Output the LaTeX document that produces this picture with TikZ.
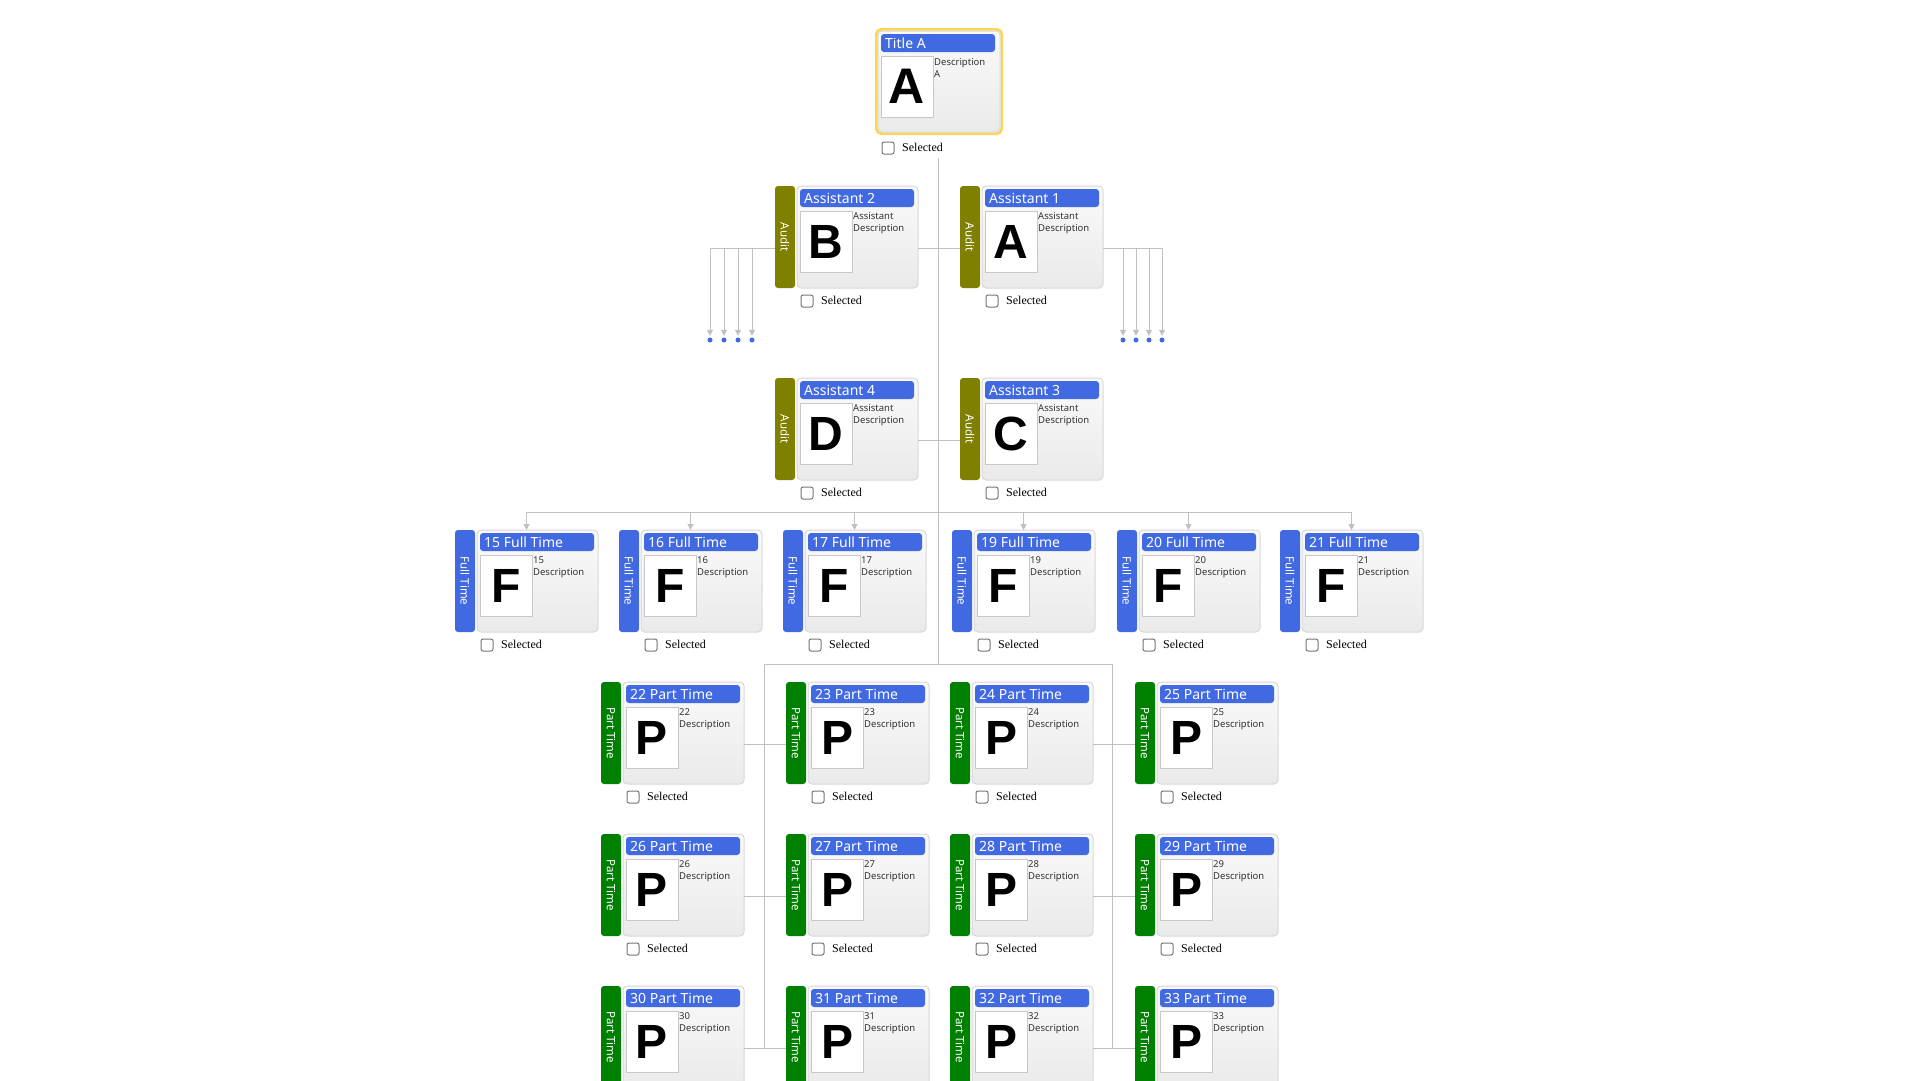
\documentclass[tikz,border=0pt]{standalone}
\usepackage{fontspec}
\setmainfont{Noto Sans}
\newfontfamily\selfont{Liberation Serif}
\newfontfamily\letterfont{Liberation Sans}
\usetikzlibrary{arrows.meta,calc}

\definecolor{royal}{RGB}{65,105,225}
\definecolor{auditolive}{RGB}{128,128,0}
\definecolor{ptgreen}{RGB}{0,128,0}
\definecolor{linegray}{RGB}{192,192,192}
\definecolor{cardborder}{RGB}{216,216,216}
\definecolor{cardtop}{RGB}{250,250,250}
\definecolor{cardbottom}{RGB}{234,234,234}
\definecolor{photoborder}{RGB}{200,200,200}
\definecolor{selgold}{RGB}{252,212,80}
\definecolor{chkgray}{RGB}{118,118,118}
\definecolor{desccol}{RGB}{51,51,51}

\tikzset{
  basebox/.style={inner sep=0pt, outer sep=0pt, anchor=north west},
  barbox/.style={basebox, minimum width=20pt, minimum height=102pt, rounded corners=3pt},
  bartext/.style={inner sep=0pt, rotate=-90, text=white, font=\fontsize{11.5}{13}\selectfont},
  cardbox/.style={basebox, draw=cardborder, line width=1pt, rounded corners=4pt, top color=cardtop, bottom color=cardbottom, minimum width=121pt, minimum height=102pt},
  titlebox/.style={basebox, fill=royal, rounded corners=3pt, minimum width=114pt, minimum height=18pt},
  titletext/.style={inner sep=0pt, anchor=base west, text=white, font=\fontsize{14}{16}\selectfont},
  photobox/.style={basebox, draw=photoborder, line width=1pt, fill=white, minimum width=52pt, minimum height=61pt},
  lettertext/.style={inner sep=0pt, font=\letterfont\bfseries\fontsize{48}{50}\selectfont},
  desctext/.style={inner sep=0pt, anchor=base west, text=desccol, font=\fontsize{9.5}{11}\selectfont},
  chkbox/.style={basebox, draw=chkgray, line width=1pt, fill=white, rounded corners=2pt, minimum width=12pt, minimum height=12pt},
  seltext/.style={inner sep=0pt, anchor=base west, text=black, font=\selfont\fontsize{12}{14}\selectfont},
  conn/.style={draw=linegray, line width=1pt},
  tipconn/.style={conn, -{Triangle[width=6pt,length=6pt]}},
  dotnode/.style={circle, fill=royal, inner sep=0pt, minimum size=5pt},
  selframe/.style={draw=selgold, line width=2.5pt, rounded corners=5pt}
}

% name, left, top, bar colour, bar text, title, letter, desc1, desc2
\newcommand\empnode[9]{%
\begin{scope}[shift={(#2,#3)}]
  \node[barbox, fill=#4] (#1bar) at (0,0) {};
  \node[bartext] (#1bartxt) at (10,51) {#5};
  \node[cardbox] (#1card) at (22,0) {};
  \node[titlebox] (#1title) at (25,3) {};
  \node[titletext] (#1titletxt) at (29,17.5) {#6};
  \node[photobox] (#1photo) at (25,25) {};
  \node[lettertext] (#1letter) at (#1photo.center) {#7};
  \node[desctext] (#1descA) at (78,33) {#8};
  \node[desctext] (#1descB) at (78,45) {#9};
  \ifdim #3pt<950pt
    \node[chkbox] (#1chk) at (26,109) {};
    \node[seltext] (#1sel) at (46,118) {Selected};
  \fi
  \coordinate (#1L) at (0,62);
  \coordinate (#1R) at (143,62);
  \coordinate (#1T) at (71.5,0);
\end{scope}}

\begin{document}
\begin{tikzpicture}[x=1pt, y=-1pt]
\path[use as bounding box] (0,0) rectangle (1920,1080);
\clip (0,0) rectangle (1920,1080);
\fill[white] (0,0) rectangle (1920,1080);

% ---------- connectors ----------
\coordinate (trunktop) at (938,158);
\coordinate (ftbus) at (938,512);
\coordinate (ptbus) at (938,664);
\coordinate (ptleft) at (764,664);
\coordinate (ptright) at (1112,664);
\coordinate (ptleftend) at (764,1048);
\coordinate (ptrightend) at (1112,1048);

\draw[conn] (trunktop) -- (ptbus);
\draw[conn] (ptleft) -- (ptright);
\draw[conn] (ptleft) -- (ptleftend);
\draw[conn] (ptright) -- (ptrightend);

% ---------- top node ----------
\draw[selframe] (876.25,29.25) rectangle (1001.75,133.75);
\begin{scope}[shift={(856,31)}]
  \node[cardbox, minimum width=122pt, minimum height=101pt] (topcard) at (22,0) {};
  \node[titlebox] (toptitle) at (25,3) {};
  \node[titletext] (toptitletxt) at (29,17.5) {Title A};
  \node[photobox] (topphoto) at (25,25) {};
  \node[lettertext, font=\letterfont\bfseries\fontsize{50}{52}\selectfont] (topletter) at (topphoto.center) {A};
  \node[desctext] (topdescA) at (78,34) {Description};
  \node[desctext] (topdescB) at (78,46) {A};
  \node[chkbox] (topchk) at (26,111) {};
  \node[seltext] (topsel) at (46,120) {Selected};
\end{scope}

% ---------- assistants ----------
\empnode{atwo}{775}{186}{auditolive}{Audit}{Assistant 2}{B}{Assistant}{Description}
\empnode{aone}{960}{186}{auditolive}{Audit}{Assistant 1}{A}{Assistant}{Description}
\empnode{afour}{775}{378}{auditolive}{Audit}{Assistant 4}{D}{Assistant}{Description}
\empnode{athree}{960}{378}{auditolive}{Audit}{Assistant 3}{C}{Assistant}{Description}

\draw[conn] (atwoR) -- (aoneL);
\draw[conn] (afourR) -- (athreeL);

% dangling arrows left
\node[dotnode] (ldA) at (710,340) {};
\node[dotnode] (ldB) at (724,340) {};
\node[dotnode] (ldC) at (738,340) {};
\node[dotnode] (ldD) at (752,340) {};
\draw[conn] (atwoL) -- (ldA |- atwoL);
\foreach \d in {ldA,ldB,ldC,ldD}{
  \draw[tipconn, shorten >=1.5pt] (\d |- atwoL) -- (\d.north);
}
% dangling arrows right
\node[dotnode] (rdA) at (1123,340) {};
\node[dotnode] (rdB) at (1136,340) {};
\node[dotnode] (rdC) at (1149,340) {};
\node[dotnode] (rdD) at (1162,340) {};
\draw[conn] (aoneR) -- (rdD |- aoneR);
\foreach \d in {rdA,rdB,rdC,rdD}{
  \draw[tipconn, shorten >=1.5pt] (\d |- aoneR) -- (\d.north);
}

% ---------- full time ----------
\empnode{fA}{455}{530}{royal}{Full Time}{15 Full Time}{F}{15}{Description}
\empnode{fB}{619}{530}{royal}{Full Time}{16 Full Time}{F}{16}{Description}
\empnode{fC}{783}{530}{royal}{Full Time}{17 Full Time}{F}{17}{Description}
\empnode{fD}{952}{530}{royal}{Full Time}{19 Full Time}{F}{19}{Description}
\empnode{fE}{1117}{530}{royal}{Full Time}{20 Full Time}{F}{20}{Description}
\empnode{fF}{1280}{530}{royal}{Full Time}{21 Full Time}{F}{21}{Description}

\draw[conn] (fAT |- ftbus) -- (fFT |- ftbus);
\foreach \n in {fA,fB,fC,fD,fE,fF}{
  \draw[tipconn] (\n T |- ftbus) -- (\n T);
}

% ---------- part time ----------
\empnode{pA}{601}{682}{ptgreen}{Part Time}{22 Part Time}{P}{22}{Description}
\empnode{pB}{786}{682}{ptgreen}{Part Time}{23 Part Time}{P}{23}{Description}
\empnode{pC}{950}{682}{ptgreen}{Part Time}{24 Part Time}{P}{24}{Description}
\empnode{pD}{1135}{682}{ptgreen}{Part Time}{25 Part Time}{P}{25}{Description}
\empnode{pE}{601}{834}{ptgreen}{Part Time}{26 Part Time}{P}{26}{Description}
\empnode{pF}{786}{834}{ptgreen}{Part Time}{27 Part Time}{P}{27}{Description}
\empnode{pG}{950}{834}{ptgreen}{Part Time}{28 Part Time}{P}{28}{Description}
\empnode{pH}{1135}{834}{ptgreen}{Part Time}{29 Part Time}{P}{29}{Description}
\empnode{pI}{601}{986}{ptgreen}{Part Time}{30 Part Time}{P}{30}{Description}
\empnode{pJ}{786}{986}{ptgreen}{Part Time}{31 Part Time}{P}{31}{Description}
\empnode{pK}{950}{986}{ptgreen}{Part Time}{32 Part Time}{P}{32}{Description}
\empnode{pL}{1135}{986}{ptgreen}{Part Time}{33 Part Time}{P}{33}{Description}

\draw[conn] (pAR) -- (pBL);
\draw[conn] (pCR) -- (pDL);
\draw[conn] (pER) -- (pFL);
\draw[conn] (pGR) -- (pHL);
\draw[conn] (pIR) -- (pJL);
\draw[conn] (pKR) -- (pLL);
\end{tikzpicture}
\end{document}
